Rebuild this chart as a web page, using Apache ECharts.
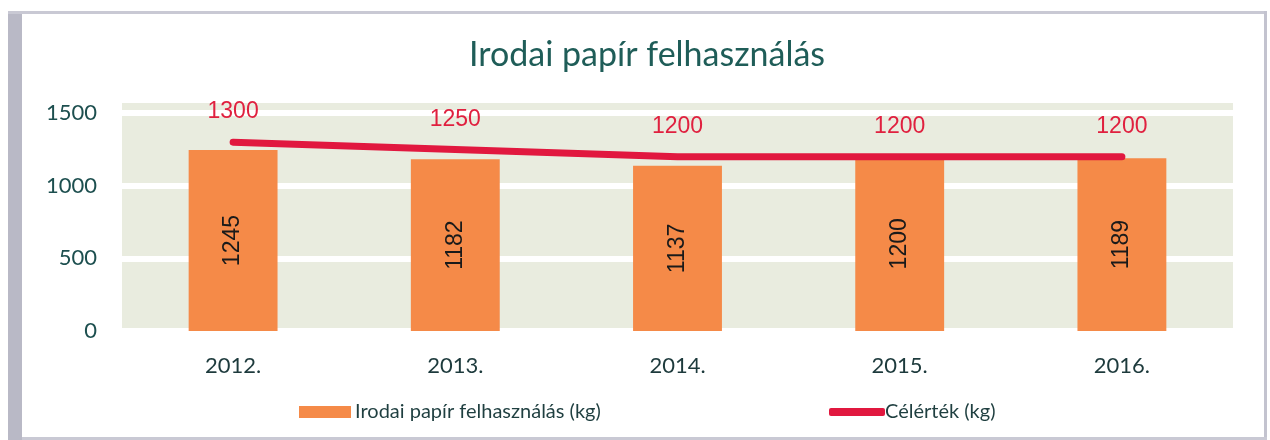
<!DOCTYPE html>
<html>
<head>
<meta charset="utf-8">
<script src="https://cdn.jsdelivr.net/npm/echarts@6/dist/echarts.min.js"></script>
<style>
html,body{margin:0;padding:0;background:#fff;}
#c{width:1270px;height:440px;}
</style>
</head>
<body>
<div id="c"></div>
<script>
const titleText = 'Irodai papír felhasználás';
const categories = ['2012.', '2013.', '2014.', '2015.', '2016.'];
const usage = [1245, 1182, 1137, 1200, 1189];
const target = [1300, 1250, 1200, 1200, 1200];
const seriesNames = ['Irodai papír felhasználás (kg)', 'Célérték (kg)'];
const yTicks = [0, 500, 1000, 1500];

const chart = echarts.init(document.getElementById('c'));
chart.setOption({
  backgroundColor: '#ffffff',
  animation: false,
  graphic: [
    { type: 'rect', z: -10, shape: { x: 8, y: 13, width: 14, height: 427 }, style: { fill: '#b9b9c6' } },
    { type: 'rect', z: -10, shape: { x: 8, y: 11, width: 1259, height: 3 }, style: { fill: '#c9c9d4' } },
    { type: 'rect', z: -10, shape: { x: 1264, y: 11, width: 3, height: 429 }, style: { fill: '#c3c3cf' } },
    { type: 'rect', z: -10, shape: { x: 22, y: 437, width: 1245, height: 3 }, style: { fill: '#c9c9d4' } }
  ],
  title: {
    text: titleText,
    left: 464,
    top: 33,
    textStyle: { fontFamily: 'Lato', fontWeight: 'normal', fontSize: 34, color: '#1f5d58' }
  },
  legend: [
    {
      data: [{ name: seriesNames[0], icon: 'rect' }],
      left: 299, top: 402, padding: 0,
      itemWidth: 52, itemHeight: 12, itemGap: 5,
      textStyle: { fontFamily: 'Lato', fontSize: 20, color: '#1f3f40', padding: [0,0,0,-1] }
    },
    {
      data: [{ name: seriesNames[1], icon: 'roundRect' }],
      left: 829, top: 402, padding: 0,
      itemWidth: 56, itemHeight: 8, itemGap: 5,
      textStyle: { fontFamily: 'Lato', fontSize: 20, color: '#1f3f40', padding: [0,0,0,-5] }
    }
  ],
  grid: {
    left: 122, right: 37, top: 100, bottom: 109,
    show: true, backgroundColor: '#e9ecdf', borderWidth: 0
  },
  xAxis: {
    type: 'category',
    data: categories,
    axisLine: { show: false },
    axisTick: { show: false },
    axisLabel: { fontFamily: 'Lato', fontSize: 22, color: '#1d3a3c', margin: 24 }
  },
  yAxis: {
    type: 'value',
    min: 0, max: 1590, interval: 500,
    axisLine: { show: false },
    axisTick: { show: false },
    axisLabel: {
      showMaxLabel: false,
      fontFamily: 'Lato', fontSize: 22, color: '#1d4f4f', margin: 25,
      formatter: v => (yTicks.indexOf(v) >= 0 ? String(v) : '')
    },
    splitLine: { lineStyle: { color: '#ffffff', width: 6 } }
  },
  series: [
    {
      name: seriesNames[0],
      type: 'bar',
      data: usage,
      barWidth: '40%',
      itemStyle: { color: '#f58a48' },
      label: {
        show: true, position: 'inside', rotate: 90,
        fontFamily: 'Liberation Sans', fontSize: 23, color: '#1a1a1a'
      },
      z: 2
    },
    {
      name: seriesNames[1],
      type: 'line',
      data: target,
      symbol: 'circle',
      symbolSize: 1,
      showSymbol: true,
      lineStyle: { color: '#e1183f', width: 7, cap: 'round' },
      itemStyle: { color: '#e1183f' },
      label: {
        show: true, position: 'top', distance: 18,
        fontFamily: 'Liberation Sans', fontSize: 23, color: '#e0203f'
      },
      z: 3
    }
  ]
});
</script>
</body>
</html>
